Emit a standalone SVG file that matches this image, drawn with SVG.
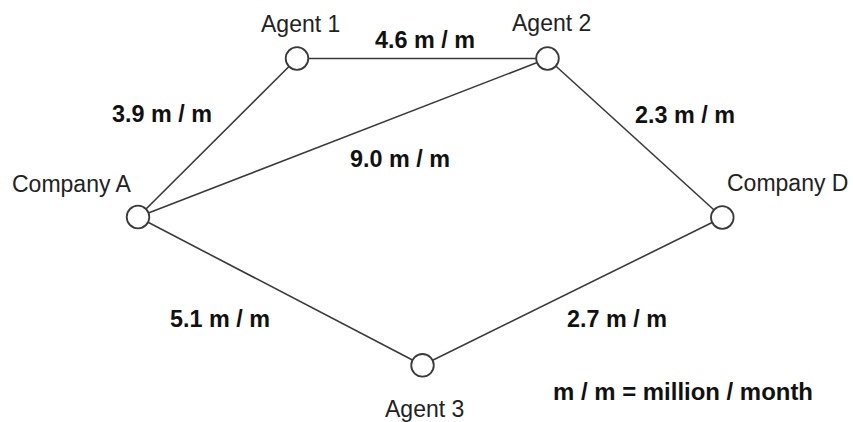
<svg xmlns="http://www.w3.org/2000/svg" width="853" height="422" viewBox="0 0 853 422">
<style>
.edge{stroke:#3a3a3a;stroke-width:1.6;fill:none}
.node{fill:#fff;stroke:#3a3a3a;stroke-width:1.8}
.lbl{font-family:"Liberation Sans",Arial,sans-serif;font-size:23px;fill:#222}
.val{font-family:"Liberation Sans",Arial,sans-serif;font-size:23.5px;font-weight:bold;fill:#111}
</style>
<rect width="853" height="422" fill="#fff"/>
<g id="connectors">
<line class="edge" x1="138" y1="217" x2="297" y2="58.5"/>
<line class="edge" x1="297" y1="58.5" x2="547.5" y2="58.5"/>
<line class="edge" x1="138" y1="217" x2="547.5" y2="58.5"/>
<line class="edge" x1="547.5" y1="58.5" x2="722.3" y2="217.5"/>
<line class="edge" x1="138" y1="217" x2="422.5" y2="365.3"/>
<line class="edge" x1="422.5" y1="365.3" x2="722.3" y2="217.5"/>
</g>
<g id="edge-labels">
<text class="val" x="112" y="122" textLength="100" lengthAdjust="spacingAndGlyphs">3.9 m / m</text>
<text class="val" x="375" y="48" textLength="100" lengthAdjust="spacingAndGlyphs">4.6 m / m</text>
<text class="val" x="350" y="167" textLength="100" lengthAdjust="spacingAndGlyphs">9.0 m / m</text>
<text class="val" x="635" y="123" textLength="100" lengthAdjust="spacingAndGlyphs">2.3 m / m</text>
<text class="val" x="170" y="327" textLength="100" lengthAdjust="spacingAndGlyphs">5.1 m / m</text>
<text class="val" x="567" y="327" textLength="100" lengthAdjust="spacingAndGlyphs">2.7 m / m</text>
</g>
<g id="agent1">
<circle class="node" cx="297" cy="58.5" r="11.3"/>
<text class="lbl" x="261" y="32">Agent 1</text>
</g>
<g id="agent2">
<circle class="node" cx="547.5" cy="58.5" r="11.3"/>
<text class="lbl" x="512" y="31">Agent 2</text>
</g>
<g id="companyA">
<circle class="node" cx="138" cy="217" r="11.3"/>
<text class="lbl" x="12" y="192">Company A</text>
</g>
<g id="companyD">
<circle class="node" cx="722.3" cy="217.5" r="11.3"/>
<text class="lbl" x="727" y="191">Company D</text>
</g>
<g id="agent3">
<circle class="node" cx="422.5" cy="365.3" r="11.3"/>
<text class="lbl" x="385" y="417">Agent 3</text>
</g>
<g id="legend">
<text class="val" x="553" y="400" textLength="260" lengthAdjust="spacingAndGlyphs">m / m = million / month</text>
</g>
</svg>
